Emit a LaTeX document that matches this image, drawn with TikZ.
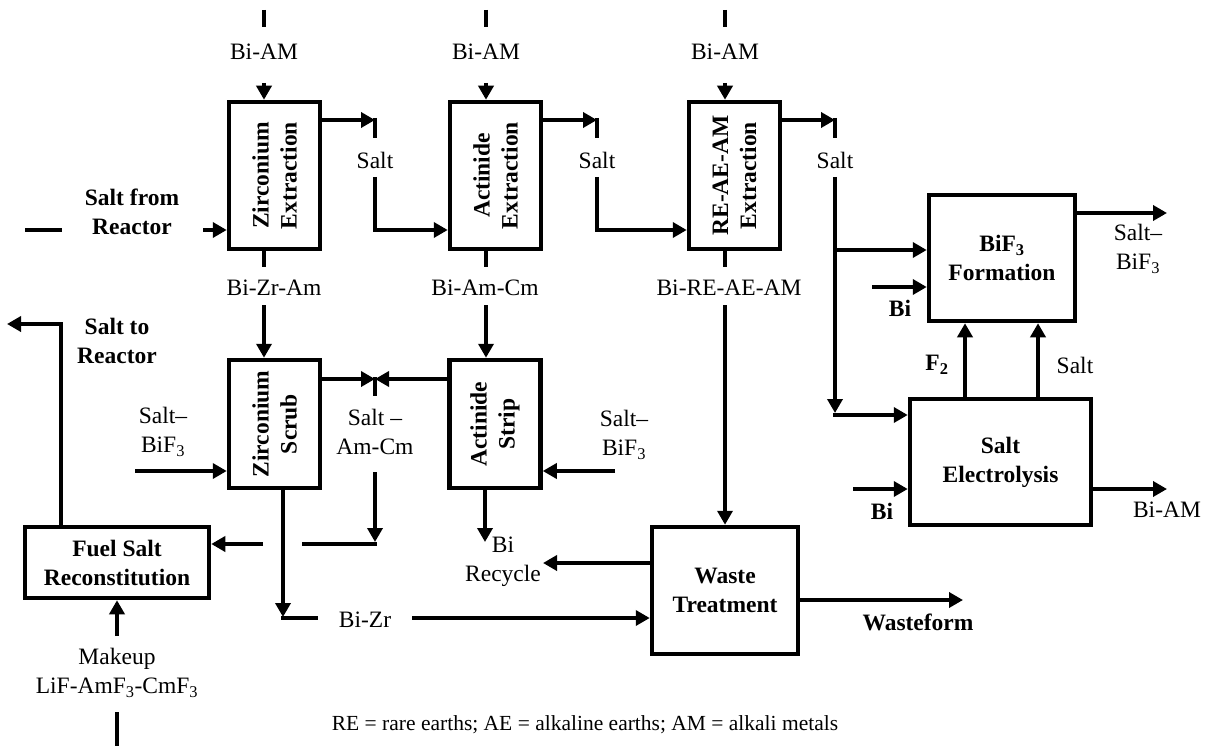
\documentclass[tikz,border=0pt]{standalone}
\usepackage{fontspec}
\setmainfont{Liberation Serif}
\usetikzlibrary{arrows.meta}
\begin{document}
\begin{tikzpicture}[x=1pt,y=-1pt,
  every node/.style={font=\fontsize{23.5}{29}\selectfont, inner sep=0pt, align=center},
  lblb/.style={font=\fontsize{23.5}{29}\selectfont\bfseries},
  blk/.style={draw, line width=4.5pt, font=\fontsize{23.5}{29}\selectfont\bfseries},
  rotb/.style={font=\fontsize{23.5}{28}\selectfont\bfseries, rotate=90},
  ln/.style={line width=3.8pt},
  arr/.style={line width=3.8pt, -{Triangle[length=14pt,width=15pt]}}
]
\useasboundingbox (0,0) rectangle (1209,746);

% ---- boxes
\node[blk, minimum width=91pt, minimum height=147pt] (zx) at (274.5,175.5) {};
\node[blk, minimum width=91pt, minimum height=147pt] (ax) at (495.5,175.5) {};
\node[blk, minimum width=91pt, minimum height=147pt] (rx) at (734.5,175.5) {};
\node[blk, minimum width=91pt, minimum height=128pt] (zs) at (274.5,424) {};
\node[blk, minimum width=91pt, minimum height=128pt] (as) at (495,424) {};
\node[blk, minimum width=146pt, minimum height=126pt] (bf) at (1002,258) {BiF\textsubscript{3}\\Formation};
\node[blk, minimum width=181pt, minimum height=126pt] (se) at (1000.5,462) {Salt\\Electrolysis};
\node[blk, minimum width=146pt, minimum height=127pt] (wt) at (725,590.5) {Waste\\Treatment};
\node[blk, minimum width=184pt, minimum height=71pt] (fs) at (117,562.5) {Fuel Salt\\Reconstitution};

\node[rotb] (zxl) at (zx) {Zirconium\\Extraction};
\node[rotb] (axl) at (ax) {Actinide\\Extraction};
\node[rotb] (rxl) at (rx) {RE-AE-AM\\Extraction};
\node[rotb] (zsl) at (zs) {Zirconium\\Scrub};
\node[rotb] (asl) at (as) {Actinide\\Strip};

% ---- Bi-AM feeds
\draw[ln] (264,10) -- (264,27);
\node (bam1) at (264,52) {Bi-AM};
\draw[arr] (264,83) -- (264,0 |- zx.north);
\draw[ln] (486,10) -- (486,27);
\node (bam2) at (486,52) {Bi-AM};
\draw[arr] (486,83) -- (486,0 |- ax.north);
\draw[ln] (725,10) -- (725,27);
\node (bam3) at (725,52) {Bi-AM};
\draw[arr] (725,83) -- (725,0 |- rx.north);

% ---- salt from reactor
\draw[ln] (25,230) -- (62,230);
\node[lblb] (sfr) at (132,212) {Salt from\\Reactor};
\draw[arr] (203,230) -- (zx.west |- 0,230);

% ---- salt between extraction steps
\coordinate (j1) at (375,120);
\draw[arr] (zx.east |- j1) -- (j1);
\draw[ln] (375,118) -- (375,138);
\node (s1) at (375,160) {Salt};
\draw[arr] (375,177) -- (375,230) -- (ax.west |- 0,230);

\coordinate (j2) at (597,120);
\draw[arr] (ax.east |- j2) -- (j2);
\draw[ln] (597,118) -- (597,138);
\node (s2) at (597,160) {Salt};
\draw[arr] (597,177) -- (597,230) -- (rx.west |- 0,230);

\coordinate (j3) at (835,120);
\draw[arr] (rx.east |- j3) -- (j3);
\draw[ln] (835,118) -- (835,138);
\node (s3) at (835,160) {Salt};
\draw[arr] (835,177) -- (835,413);
\draw[arr] (835,250) -- (bf.west |- 0,250);
\draw[arr] (833,415) -- (se.west |- 0,415);

% ---- metal streams below extraction
\draw[ln] (zx.south -| 264,0) -- (264,267);
\node (bzra) at (274,288) {Bi-Zr-Am};
\draw[arr] (264,305) -- (264,0 |- zs.north);
\draw[ln] (ax.south -| 486,0) -- (486,267);
\node (bamc) at (485,288) {Bi-Am-Cm};
\draw[arr] (486,305) -- (486,0 |- as.north);
\draw[ln] (rx.south -| 725,0) -- (725,267);
\node (bre) at (729,288) {Bi-RE-AE-AM};
\draw[arr] (725,305) -- (wt.north);

% ---- scrub / strip salt
\coordinate (j4) at (375,379);
\draw[arr] (zs.east |- j4) -- (j4);
\draw[arr] (as.west |- j4) -- (j4);
\draw[ln] (375,377) -- (375,396);
\node (sam) at (375,432) {Salt --\\Am-Cm};
\draw[arr] (375,472) -- (375,542);
\draw[ln] (376.9,544) -- (302,544);
\draw[arr] (263,544) -- (fs.east |- 0,544);

\node (sb1) at (163,432) {Salt--\\BiF\textsubscript{3}};
\draw[arr] (135,471) -- (zs.west |- 0,471);
\node (sb2) at (624,435) {Salt--\\BiF\textsubscript{3}};
\draw[arr] (615,471) -- (as.east |- 0,471);

% ---- Bi-Zr and Bi recycle
\draw[arr] (zs.south -| 283,0) -- (283,617);
\draw[ln] (281.1,618) -- (318,618);
\node (bzr) at (365,620) {Bi-Zr};
\draw[arr] (412,618) -- (wt.west |- 0,618);
\draw[arr] (as.south -| 485,0) -- (485,542);
\node (bir) at (503,562) {Bi\\Recycle};
\draw[arr] (wt.west |- 0,563) -- (543,563);

% ---- fuel salt reconstitution
\draw[arr] (fs.north -| 61,0) -- (61,324) -- (7,324);
\node[lblb] (str) at (117,341) {Salt to\\Reactor};
\draw[arr] (117,636) -- (fs.south);
\node (mk) at (117,673) {Makeup\\LiF-AmF\textsubscript{3}-CmF\textsubscript{3}};
\draw[ln] (117,712) -- (117,746);

% ---- waste treatment
\draw[arr] (wt.east |- 0,600) -- (963,600);
\node[lblb] (wf) at (918,622) {Wasteform};

% ---- BiF3 formation
\draw[arr] (bf.east |- 0,213) -- (1167,213);
\node (sb3) at (1138,249) {Salt--\\BiF\textsubscript{3}};
\draw[arr] (872,287) -- (bf.west |- 0,287);
\node[lblb] (bi1) at (900,308) {Bi};
\draw[arr] (se.north -| 965,0) -- (bf.south -| 965,0);
\node[lblb] (f2) at (937,365) {F\textsubscript{2}};
\draw[arr] (se.north -| 1038,0) -- (bf.south -| 1038,0);
\node (s4) at (1075,365) {Salt};

% ---- salt electrolysis
\draw[arr] (853,489) -- (se.west |- 0,489);
\node[lblb] (bi2) at (882,511) {Bi};
\draw[arr] (se.east |- 0,489) -- (1167,489);
\node (bam4) at (1167,510) {Bi-AM};

% ---- legend
\node[font=\fontsize{21.5}{26}\selectfont] (note) at (585,725) {RE = rare earths; AE = alkaline earths; AM = alkali metals};
\end{tikzpicture}
\end{document}
